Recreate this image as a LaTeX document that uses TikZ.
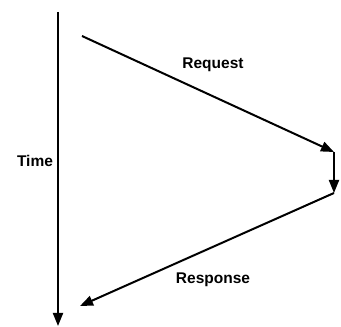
\documentclass[tikz,border=0pt]{standalone}
\usepackage{fontspec}
\setmainfont{Liberation Sans}
\usetikzlibrary{arrows.meta}
\begin{document}
\begin{tikzpicture}[x=1pt,y=1pt,
  flow/.style={line width=2pt,-{Triangle[length=13pt,width=10pt]}},
  lbl/.style={font=\fontsize{15.5}{18}\selectfont\bfseries,inner sep=0pt}]
\useasboundingbox (0,0) rectangle (341,327);
\coordinate (t0) at (58,315);
\coordinate (t1) at (58,1);
\coordinate (a) at (82,291);
\coordinate (b) at (334,175);
\coordinate (c) at (334,134);
\coordinate (d) at (80,21);
\draw[flow] (t0) -- (t1);
\draw[flow] (a) -- (b);
\draw[flow] (b) -- (c);
\draw[flow] (c) -- (d);
\node[lbl] (time) at (35,166) {Time};
\node[lbl] (req) at (213,262) {Request};
\node[lbl] (resp) at (213,47) {Response};
\end{tikzpicture}
\end{document}
